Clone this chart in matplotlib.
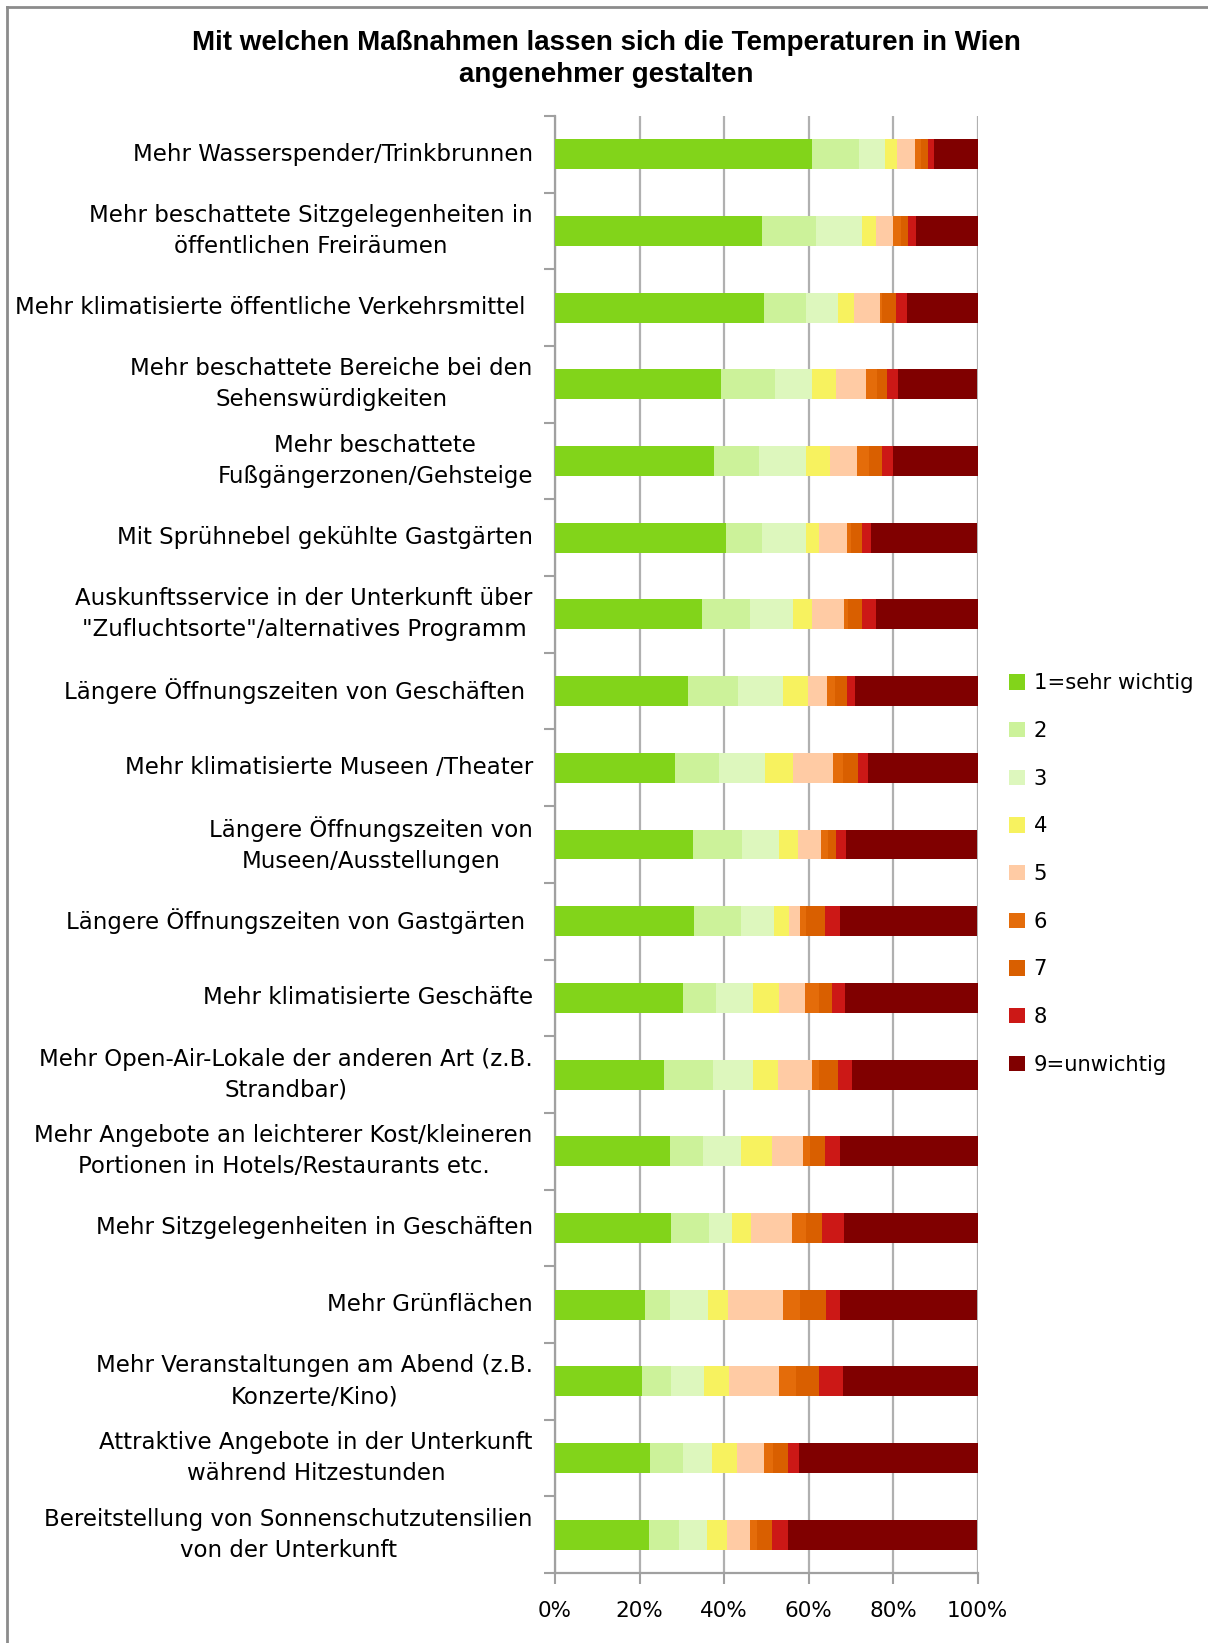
import matplotlib
matplotlib.use("Agg")
import matplotlib.pyplot as plt
import numpy as np
from matplotlib.lines import Line2D
from matplotlib.patches import Patch

categories = [
    "Mehr Wasserspender/Trinkbrunnen",
    "Mehr beschattete Sitzgelegenheiten in\nöffentlichen Freiräumen",
    "Mehr klimatisierte öffentliche Verkehrsmittel ",
    "Mehr beschattete Bereiche bei den\nSehenswürdigkeiten",
    "Mehr beschattete\nFußgängerzonen/Gehsteige",
    "Mit Sprühnebel gekühlte Gastgärten",
    "Auskunftsservice in der Unterkunft über\n\"Zufluchtsorte\"/alternatives Programm",
    "Längere Öffnungszeiten von Geschäften ",
    "Mehr klimatisierte Museen /Theater",
    "Längere Öffnungszeiten von\nMuseen/Ausstellungen",
    "Längere Öffnungszeiten von Gastgärten ",
    "Mehr klimatisierte Geschäfte",
    "Mehr Open-Air-Lokale der anderen Art (z.B.\nStrandbar)",
    "Mehr Angebote an leichterer Kost/kleineren\nPortionen in Hotels/Restaurants etc.",
    "Mehr Sitzgelegenheiten in Geschäften",
    "Mehr Grünflächen",
    "Mehr Veranstaltungen am Abend (z.B.\nKonzerte/Kino)",
    "Attraktive Angebote in der Unterkunft\nwährend Hitzestunden",
    "Bereitstellung von Sonnenschutzutensilien\nvon der Unterkunft",
]

series_names = ["1=sehr wichtig", "2", "3", "4", "5", "6", "7", "8", "9=unwichtig"]

s1 = [60.9, 48.9, 49.4, 39.2, 37.7, 40.4, 34.7, 31.4, 28.4, 32.6, 32.9, 30.2, 25.9, 27.2, 27.5, 21.2, 20.6, 22.4, 22.2]
s2 = [11.0, 12.8, 10.0, 12.9, 10.5, 8.7, 11.4, 12.0, 10.5, 11.7, 11.2, 7.8, 11.6, 7.8, 9.0, 6.0, 6.9, 7.8, 7.1]
s3 = [6.1, 10.9, 7.7, 8.8, 11.2, 10.3, 10.2, 10.5, 10.8, 8.7, 7.8, 8.8, 9.3, 9.1, 5.5, 9.1, 7.8, 6.9, 6.7]
s4 = [2.9, 3.3, 3.6, 5.7, 5.7, 3.2, 4.6, 6.0, 6.6, 4.6, 3.5, 6.2, 6.0, 7.2, 4.5, 4.7, 6.0, 6.0, 4.7]
s5 = [4.3, 4.2, 6.3, 7.1, 6.3, 6.6, 7.5, 4.5, 9.6, 5.3, 2.7, 6.1, 8.0, 7.5, 9.5, 12.9, 11.8, 6.3, 5.4]
s6 = [1.5, 1.8, 0.4, 2.5, 2.9, 0.9, 1.0, 1.8, 2.2, 1.8, 1.2, 3.3, 1.8, 1.5, 3.3, 4.0, 3.9, 2.2, 1.8]
s7 = [1.7, 1.7, 3.3, 2.3, 3.1, 2.5, 3.2, 3.0, 3.6, 1.9, 4.5, 3.2, 4.5, 3.5, 3.9, 6.2, 5.4, 3.5, 3.4]
s8 = [1.4, 1.8, 2.7, 2.7, 2.7, 2.3, 3.3, 1.9, 2.4, 2.3, 3.6, 3.0, 3.3, 3.6, 5.2, 3.3, 5.7, 2.7, 3.8]
s9 = [10.2, 14.6, 16.6, 18.8, 19.9, 25.1, 24.1, 28.9, 25.9, 31.1, 32.6, 31.4, 29.6, 32.6, 31.6, 32.6, 31.9, 42.2, 44.9]

colors = ["#82D41A", "#CCF29A", "#DDF7BD", "#F7F25F", "#FFCBA4",
          "#E46C0A", "#D95F00", "#CC1816", "#800000"]

x_ticks = [0, 20, 40, 60, 80, 100]
x_ticklabels = ["0%", "20%", "40%", "60%", "80%", "100%"]

series = [s1, s2, s3, s4, s5, s6, s7, s8, s9]

W, H = 1208, 1643
fig = plt.figure(figsize=(W / 100, H / 100), dpi=100)
fig.patch.set_facecolor("white")

# border (top & left visible)
fig.add_artist(Line2D([7 / W, 7 / W], [0, 1 - 7 / H], transform=fig.transFigure, color="#8C8C8C", lw=2))
fig.add_artist(Line2D([7 / W, 1], [1 - 7 / H, 1 - 7 / H], transform=fig.transFigure, color="#8C8C8C", lw=2))

ax_left, ax_right = 555 / W, 977.5 / W
ax_top, ax_bottom = 1 - 116 / H, 1 - 1573 / H
ax = fig.add_axes([ax_left, ax_bottom, ax_right - ax_left, ax_top - ax_bottom])

n = len(categories)
y = np.arange(n)
totals = np.zeros(n)
for vals in series:
    totals += np.array(vals)

left = np.zeros(n)
handles = []
for vals, col, name in zip(series, colors, series_names):
    v = np.array(vals) / totals * 100
    ax.barh(y, v, left=left, height=0.39, color=col, edgecolor="none", zorder=3)
    left += v
    handles.append(Patch(facecolor=col, edgecolor="none", label=name))

ax.set_xlim(0, 100)
ax.set_ylim(n - 0.5, -0.5)
ax.set_xticks(x_ticks)
ax.set_xticklabels(x_ticklabels)
ax.xaxis.grid(True, color="#B0B0B0", lw=1.6, zorder=0)
ax.set_axisbelow(True)

ax.set_yticks(y)
ax.set_yticklabels(categories)
ax.set_yticks(np.arange(-0.5, n, 1.0), minor=True)
ax.tick_params(axis="y", which="major", length=0, pad=16, labelsize=16.5, labelcolor="#000000")
ax.tick_params(axis="y", which="minor", length=8, width=1.5, color="#A0A0A0")
ax.tick_params(axis="x", which="major", length=8, width=1.5, color="#A0A0A0", labelsize=15.5, pad=12)
for lab in ax.get_yticklabels():
    lab.set_multialignment("center")
    lab.set_linespacing(1.45)
    lab.set_verticalalignment("center")

for side in ["top", "right"]:
    ax.spines[side].set_visible(False)
for side in ["left", "bottom"]:
    ax.spines[side].set_color("#A0A0A0")
    ax.spines[side].set_linewidth(1.6)

leg = fig.legend(handles=handles, loc="upper left", bbox_to_anchor=(1001 / W, 1 - 665 / H),
                 frameon=False, fontsize=15.2, handlelength=0.75, handleheight=0.75,
                 handletextpad=0.4, labelspacing=1.31, borderaxespad=0)

fig.text(606 / W, 1 - 59 / H, "Mit welchen Maßnahmen lassen sich die Temperaturen in Wien\nangenehmer gestalten",
         ha="center", va="center", fontsize=20, fontweight="bold",
         family=["Liberation Sans", "DejaVu Sans"], linespacing=1.3)

fig.savefig("out.png", dpi=100, facecolor="white")
